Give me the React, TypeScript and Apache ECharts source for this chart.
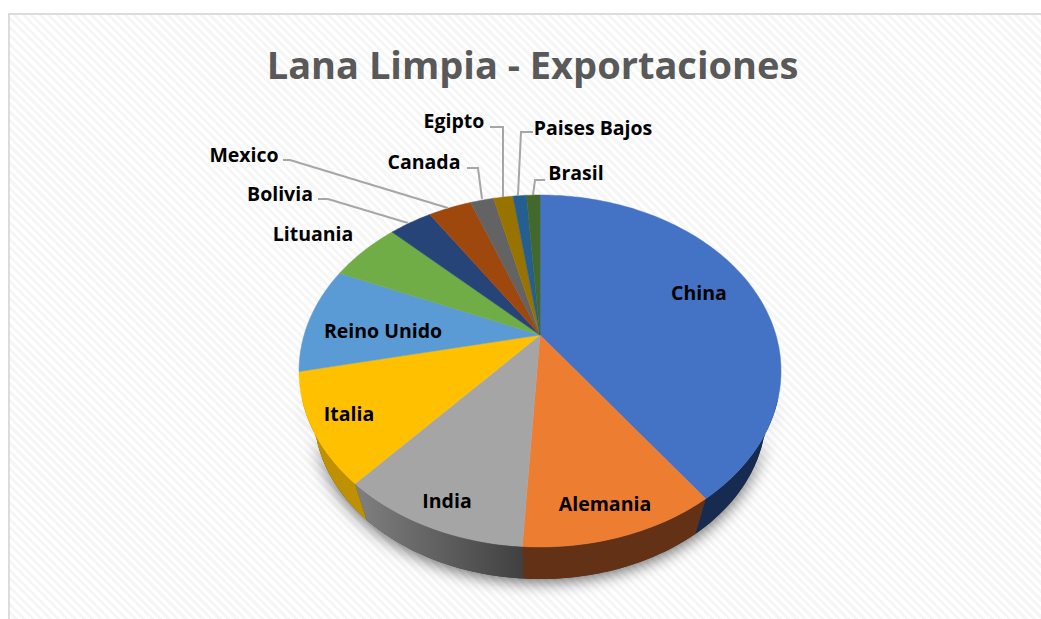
import React, { useEffect, useRef } from "react";
import * as echarts from "echarts";

const titleText = "Lana Limpia - Exportaciones";
const categories = ["China", "Alemania", "India", "Italia", "Reino Unido", "Lituania", "Bolivia", "Mexico", "Canada", "Egipto", "Paises Bajos", "Brasil"];
const shares = [40.0, 10.9, 10.6, 10.1, 9.8, 5.8, 3.5, 3.5, 1.9, 1.6, 1.1, 1.1];

const topColors = ["#4472C4", "#ED7D31", "#A5A5A5", "#FFC000", "#5B9BD5", "#70AD47", "#264478", "#9E480E", "#636363", "#997300", "#255E91", "#43682B"];
const sideColors = ["#172B50", "#633115", "#555555", "#BF9000", "#3A75AE", "#4E7A31", "#1A3054", "#6E320A", "#454545", "#6B5000", "#1A4265", "#2F491E"];

// label centre [x, y] and optional leader polyline, in page pixels
const labelSpots: [number, number][] = [
  [699, 292], [605, 503], [447, 500], [349, 413], [383, 330], [313, 233],
  [280, 193], [244, 154], [424, 161], [454, 120], [593, 127], [576, 172],
];
const leaders: ([number, number][] | null)[] = [
  null, null, null, null, null, null,
  [[318, 199], [328, 199], [408, 223]],
  [[283, 160], [290, 160], [448, 208]],
  [[467, 168], [478, 168], [482, 199]],
  [[490, 127], [503, 127], [503, 197]],
  [[533, 132], [521, 132], [518, 195]],
  [[545, 180], [535, 180], [533, 195]],
];

// perspective projection of the pie's unit circle
const APEX_X = 540, APEX_Y = 335, SX = 235.9, A = 100.1, C = -0.2045;
const VANISH_Y = 1065, SHRINK = 0.938;
// only this part of the rim is seen from the viewer's side
const RIM_FROM = (110 * Math.PI) / 180, RIM_TO = (250 * Math.PI) / 180;

function top(theta: number): [number, number] {
  const u = Math.sin(theta), v = -Math.cos(theta);
  const w = 1 + C * v;
  return [APEX_X + (SX * u) / w, (A * v + APEX_Y) / w];
}
function bottom(theta: number): [number, number] {
  const [x, y] = top(theta);
  return [APEX_X + (x - APEX_X) * SHRINK, VANISH_Y + (y - VANISH_Y) * SHRINK];
}

const total = shares.reduce((s, x) => s + x, 0);
const bounds: number[] = [0];
shares.forEach((s) => bounds.push(bounds[bounds.length - 1] + (s / total) * Math.PI * 2));

function arc(fn: (t: number) => [number, number], a: number, b: number): [number, number][] {
  const n = Math.max(2, Math.ceil((b - a) / 0.02));
  const pts: [number, number][] = [];
  for (let i = 0; i <= n; i++) pts.push(fn(a + ((b - a) * i) / n));
  return pts;
}

function sideFill(i: number) {
  if (i === 2) {
    return new echarts.graphic.LinearGradient(0, 0, 1, 0, [
      { offset: 0, color: "#808080" },
      { offset: 1, color: "#404040" },
    ]);
  }
  return sideColors[i];
}

const FONT = "'Open Sans', sans-serif";

export default function App() {
  const ref = useRef<HTMLDivElement>(null);
  useEffect(() => {
    document.body.style.margin = "0";
    document.body.style.overflow = "hidden";
    const chart = echarts.init(ref.current!, undefined, { renderer: "svg" });
    const data = categories.map((name, i) => ({ name, value: shares[i] }));
    chart.setOption({
      animation: false,
      backgroundColor: "transparent",
      title: {
        text: titleText,
        left: 527.5,
        top: 59,
        textAlign: "center",
        textVerticalAlign: "middle",
        textStyle: { fontFamily: FONT, fontSize: 38, fontWeight: "bold", color: "#595959" },
      },
      series: [
        {
          type: "custom",
          coordinateSystem: "none",
          z: 0,
          silent: true,
          data: [{ name: "rim", value: total }],
          renderItem: () => ({
            type: "polygon",
            shape: { points: [...arc(top, RIM_FROM, RIM_TO), ...arc(bottom, RIM_FROM, RIM_TO).reverse()] },
            style: {
              fill: "#444444",
              shadowBlur: 16,
              shadowColor: "rgba(0,0,0,0.6)",
              shadowOffsetY: 3,
            },
          }),
        },
        {
          type: "custom",
          coordinateSystem: "none",
          z: 1,
          silent: true,
          data,
          renderItem: (p: any) => {
            const i = p.dataIndex;
            const a = Math.max(bounds[i], RIM_FROM), b = Math.min(bounds[i + 1], RIM_TO);
            if (b <= a) return { type: "group", children: [] };
            return {
              type: "polygon",
              shape: { points: [...arc(top, a, b), ...arc(bottom, a, b).reverse()] },
              style: { fill: sideFill(i) },
            };
          },
        },
        {
          type: "custom",
          coordinateSystem: "none",
          z: 2,
          silent: true,
          data,
          renderItem: (p: any) => {
            const i = p.dataIndex;
            return {
              type: "polygon",
              shape: { points: [[APEX_X, APEX_Y], ...arc(top, bounds[i], bounds[i + 1])] },
              style: { fill: topColors[i], stroke: topColors[i], lineWidth: 0.5 },
            };
          },
        },
        {
          type: "custom",
          coordinateSystem: "none",
          z: 3,
          silent: true,
          data,
          renderItem: (p: any) => {
            const i = p.dataIndex;
            const children: any[] = [];
            const line = leaders[i];
            if (line) {
              children.push({
                type: "polyline",
                shape: { points: line },
                style: { stroke: "#A6A6A6", lineWidth: 2, fill: "none" },
              });
            }
            children.push({
              type: "text",
              x: labelSpots[i][0],
              y: labelSpots[i][1],
              style: {
                text: categories[i],
                fontFamily: FONT,
                fontSize: 19.5,
                fontWeight: "bold",
                fill: "#000000",
                align: "center",
                verticalAlign: "middle",
              },
            });
            return { type: "group", children };
          },
        },
      ],
    });
    return () => chart.dispose();
  }, []);

  return (
    <div style={{ position: "absolute", left: 0, top: 0, width: 1041, height: 619, background: "#fff", overflow: "hidden" }}>
      <div
        style={{
          position: "absolute",
          left: 8,
          top: 13,
          width: 1033,
          height: 606,
          boxSizing: "border-box",
          borderLeft: "2px solid #dcdcdc",
          borderTop: "2px solid #dcdcdc",
          background: "repeating-linear-gradient(45deg, #ffffff 0 3px, #f6f6f6 3px 6px)",
        }}
      />
      <div ref={ref} style={{ position: "absolute", left: 0, top: 0, width: 1041, height: 619 }} />
    </div>
  );
}
